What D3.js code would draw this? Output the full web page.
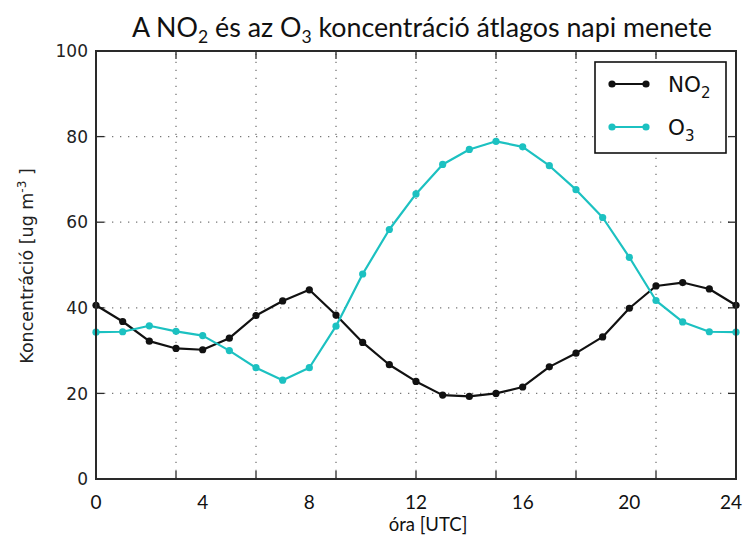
<!DOCTYPE html>
<html>
<head>
<meta charset="utf-8">
<script src="https://cdn.jsdelivr.net/npm/d3@7"></script>
<style>
  html, body { margin: 0; padding: 0; background: #fff; }
  svg { display: block; }
</style>
</head>
<body>
<svg id="chart" width="745" height="539"></svg>
<script>
// Hours of the day (UTC)
const hours = d3.range(0, 25);
// Mean diurnal NO2 concentration [ug m-3]
const no2 = [40.6, 36.8, 32.2, 30.5, 30.2, 32.9, 38.2, 41.6, 44.2, 38.3,
             31.9, 26.7, 22.8, 19.6, 19.3, 20.0, 21.5, 26.2, 29.4, 33.2,
             39.9, 45.1, 45.9, 44.4, 40.6];
// Mean diurnal O3 concentration [ug m-3]
const o3 = [34.3, 34.4, 35.8, 34.5, 33.5, 30.0, 26.0, 23.1, 26.0, 35.7,
            47.9, 58.3, 66.6, 73.5, 77.0, 78.9, 77.6, 73.2, 67.6, 61.1,
            51.8, 41.7, 36.7, 34.4, 34.3];
// Tick and grid positions
const xGrid = d3.range(0, 25, 3);
const xLabels = [0, 4, 8, 12, 16, 20, 24];
const yTicks = [0, 20, 40, 60, 80, 100];

const svg = d3.select("#chart");
const x = d3.scaleLinear().domain([0, 24]).range([96, 736]);
const y = d3.scaleLinear().domain([0, 100]).range([479, 51]);

const frameColor = "#2a2a2a";
const gridColor = "#777";
const no2Color = "#111";
const o3Color = "#1cc1c1";
const mpl = "'DejaVu Sans', sans-serif";
const cal = "Lato, 'Open Sans', sans-serif";

// dotted grid
const grid = svg.append("g");
grid.selectAll(".gx").data(xGrid.slice(1, -1)).join("line")
  .attr("x1", d => x(d)).attr("x2", d => x(d))
  .attr("y1", y(0)).attr("y2", y(100))
  .attr("stroke", gridColor).attr("stroke-width", 1.3)
  .attr("stroke-dasharray", "1.3,6.7");
grid.selectAll(".gy").data(yTicks.slice(1, -1)).join("line")
  .attr("y1", d => y(d)).attr("y2", d => y(d))
  .attr("x1", x(0)).attr("x2", x(24))
  .attr("stroke", gridColor).attr("stroke-width", 1.3)
  .attr("stroke-dasharray", "1.3,6.7");

// inward ticks on all four sides
const tl = 8;
const ticks = svg.append("g").attr("stroke", frameColor).attr("stroke-width", 1.3);
xGrid.forEach(v => {
  ticks.append("line").attr("x1", x(v)).attr("x2", x(v)).attr("y1", y(0)).attr("y2", y(0) - tl);
  ticks.append("line").attr("x1", x(v)).attr("x2", x(v)).attr("y1", y(100)).attr("y2", y(100) + tl);
});
yTicks.forEach(v => {
  ticks.append("line").attr("y1", y(v)).attr("y2", y(v)).attr("x1", x(0)).attr("x2", x(0) + tl);
  ticks.append("line").attr("y1", y(v)).attr("y2", y(v)).attr("x1", x(24)).attr("x2", x(24) - tl);
});

// series
const line = d3.line().x((d, i) => x(hours[i])).y(d => y(d));
function series(vals, color) {
  svg.append("path").datum(vals).attr("d", line)
    .attr("fill", "none").attr("stroke", color).attr("stroke-width", 2.2)
    .attr("stroke-linejoin", "round");
  svg.append("g").selectAll("circle").data(vals).join("circle")
    .attr("cx", (d, i) => x(hours[i])).attr("cy", d => y(d)).attr("r", 3.6)
    .attr("fill", color);
}
series(no2, no2Color);
series(o3, o3Color);

// frame
svg.append("rect").attr("x", x(0)).attr("y", y(100))
  .attr("width", x(24) - x(0)).attr("height", y(0) - y(100))
  .attr("fill", "none").attr("stroke", frameColor).attr("stroke-width", 2);

// y tick labels
svg.append("g").selectAll("text").data(yTicks).join("text")
  .attr("x", 88).attr("y", d => y(d)).attr("dy", "0.36em")
  .attr("text-anchor", "end").attr("font-family", mpl).attr("font-size", 17)
  .attr("fill", "#222").text(d => d);

// x tick labels (the last one kept inside the page edge)
svg.append("g").selectAll("text").data(xLabels).join("text")
  .attr("x", d => Math.min(x(d), 731)).attr("y", 509)
  .attr("text-anchor", "middle").attr("font-family", cal).attr("font-size", 19)
  .attr("fill", "#111").text(d => d);

// x axis title
svg.append("text").attr("x", 428).attr("y", 531)
  .attr("text-anchor", "middle").attr("font-family", cal).attr("font-size", 18.5)
  .attr("fill", "#111").text("óra [UTC]");

// y axis title
const yt = svg.append("text")
  .attr("transform", "translate(33,266) rotate(-90)")
  .attr("text-anchor", "middle").attr("font-family", mpl).attr("font-size", 17.5)
  .attr("fill", "#222");
yt.append("tspan").text("Koncentráció [ug m");
yt.append("tspan").attr("dy", -7).attr("font-size", 12).text("-3");
yt.append("tspan").attr("dy", 7).text(" ]");

// chart title
const title = svg.append("text").attr("x", 132).attr("y", 37)
  .attr("font-family", cal).attr("font-size", 26.8).attr("fill", "#111");
title.append("tspan").text("A NO");
title.append("tspan").attr("dy", 6).attr("font-size", 17.5).text("2");
title.append("tspan").attr("dy", -6).text(" és az O");
title.append("tspan").attr("dy", 6).attr("font-size", 17.5).text("3");
title.append("tspan").attr("dy", -6).text(" koncentráció átlagos napi menete");

// legend
const lg = svg.append("g");
lg.append("rect").attr("x", 595).attr("y", 62).attr("width", 131).attr("height", 91)
  .attr("fill", "#fff").attr("stroke", "#111").attr("stroke-width", 1.6);
const legendItems = [
  { name: "NO", sub: "2", color: no2Color, yy: 84 },
  { name: "O", sub: "3", color: o3Color, yy: 127 }
];
legendItems.forEach(it => {
  lg.append("line").attr("x1", 612).attr("x2", 646).attr("y1", it.yy).attr("y2", it.yy)
    .attr("stroke", it.color).attr("stroke-width", 2.2);
  [612, 646].forEach(cx => lg.append("circle").attr("cx", cx).attr("cy", it.yy)
    .attr("r", 3.6).attr("fill", it.color));
  const t = lg.append("text").attr("x", 668).attr("y", it.yy + 7.5)
    .attr("font-family", mpl).attr("font-size", 21.5).attr("fill", "#111");
  t.append("tspan").text(it.name);
  t.append("tspan").attr("dy", 6).attr("font-size", 15).text(it.sub);
});
</script>
</body>
</html>
